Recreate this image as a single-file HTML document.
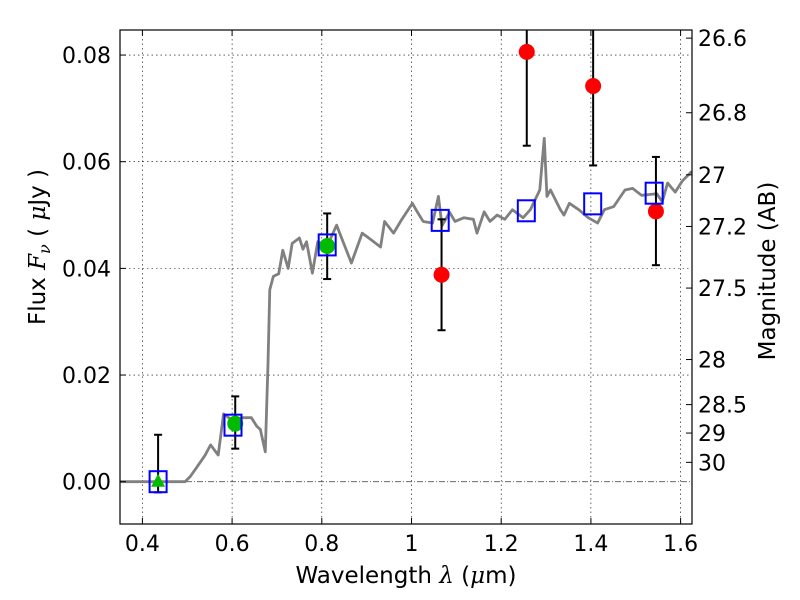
<!DOCTYPE html>
<html><head><meta charset="utf-8"><style>
body{margin:0;background:#fff;}
svg{display:block;font-family:"DejaVu Sans","Liberation Sans",sans-serif;}
</style></head><body>
<svg id="chart" width="800" height="600" viewBox="0 0 800 600"></svg>
<script>
const xTicks=[0.4,0.6,0.8,1,1.2,1.4,1.6];
const xTickLabels=["0.4","0.6","0.8","1","1.2","1.4","1.6"];
const yTicks=[0,0.02,0.04,0.06,0.08];
const yTickLabels=["0.00","0.02","0.04","0.06","0.08"];
const magTicks=[26.6,26.8,27,27.2,27.5,28,28.5,29,30];
const specW=[0.35,0.495,0.507,0.527,0.54,0.552,0.569,0.581,0.601,0.622,0.643,0.655,0.663,0.674,0.68,0.684,0.692,0.704,0.713,0.725,0.734,0.75,0.758,0.766,0.779,0.791,0.812,0.833,0.846,0.866,0.89,0.911,0.931,0.94,0.96,0.977,1.002,1.01,1.026,1.047,1.06,1.068,1.085,1.097,1.117,1.138,1.146,1.162,1.175,1.191,1.208,1.225,1.249,1.265,1.286,1.296,1.302,1.31,1.332,1.34,1.352,1.373,1.394,1.415,1.43,1.451,1.476,1.493,1.513,1.547,1.559,1.571,1.588,1.604,1.625];
const specF=[0,0,0.001,0.0034,0.005,0.0069,0.005,0.0127,0.0115,0.012,0.012,0.0104,0.0098,0.0056,0.022,0.036,0.0385,0.039,0.0434,0.040,0.0447,0.0457,0.0436,0.045,0.0391,0.045,0.0442,0.0481,0.0453,0.041,0.0466,0.0453,0.044,0.0488,0.0466,0.049,0.0522,0.051,0.0488,0.0485,0.0535,0.048,0.0505,0.0488,0.0495,0.0492,0.0466,0.0506,0.0488,0.05,0.0492,0.051,0.0495,0.051,0.0547,0.0644,0.0535,0.0547,0.051,0.05,0.0522,0.051,0.0495,0.0485,0.051,0.0516,0.0547,0.055,0.0537,0.054,0.0525,0.056,0.0543,0.0564,0.0582];
const modelW=[0.435,0.602,0.812,1.064,1.256,1.404,1.541];
const modelF=[0.0,0.0106,0.0444,0.049,0.0508,0.0521,0.0541];
const greenW=[0.607,0.812];
const greenF=[0.0109,0.0442];
const greenLo=[0.0062,0.038];
const greenHi=[0.016,0.0503];
const triW=[0.435];const triF=[0.0];const triLo=[-0.002];const triHi=[0.0088];
const redW=[1.067,1.257,1.405,1.545];
const redF=[0.0388,0.0806,0.0742,0.0507];
const redLo=[0.0284,0.063,0.0593,0.0406];
const redHi=[0.0492,0.095,0.095,0.0609];

const L=120,R=692,T=30,B=524;
const X=w=>411.5+(w-1)*448.5;
const Y=f=>481.7-f*5333;
const svg=document.getElementById('chart');
const NS='http://www.w3.org/2000/svg';
function mk(tag,attrs,parent){const e=document.createElementNS(NS,tag);for(const k in attrs)e.setAttribute(k,attrs[k]);(parent||svg).appendChild(e);return e;}
const defs=mk('defs',{});const cp=mk('clipPath',{id:'clip'},defs);mk('rect',{x:L,y:T,width:R-L,height:B-T},cp);
const plot=mk('g',{'clip-path':'url(#clip)'});


xTicks.forEach(v=>{const g=mk('line',{x1:X(v),x2:X(v),y1:T,y2:B,stroke:'#000','stroke-width':0.6,'stroke-dasharray':'1.5,3'},plot);

});
yTicks.forEach(v=>{if(v===0)return;const g=mk('line',{x1:L,x2:R,y1:Y(v),y2:Y(v),stroke:'#000','stroke-width':0.6,'stroke-dasharray':'1.5,3'},plot);

});
const zl=mk('line',{x1:L,x2:R,y1:Y(0),y2:Y(0),stroke:'#555','stroke-width':0.8,'stroke-dasharray':'6,2,1,2'},plot);


const sp=mk('polyline',{points:specW.map((w,i)=>X(w)+','+Y(specF[i])).join(' '),fill:'none',stroke:'#808080','stroke-width':2.8,'stroke-linejoin':'round'},plot);


function err(w,lo,hi){const x=X(w);
const g=mk('g',{stroke:'#000','stroke-width':2},plot);


mk('line',{x1:x,x2:x,y1:Y(lo),y2:Y(hi)},g);mk('line',{x1:x-4,x2:x+4,y1:Y(lo),y2:Y(lo)},g);mk('line',{x1:x-4,x2:x+4,y1:Y(hi),y2:Y(hi)},g);}
triW.forEach((w,i)=>err(w,triLo[i],triHi[i]));
greenW.forEach((w,i)=>err(w,greenLo[i],greenHi[i]));
redW.forEach((w,i)=>err(w,redLo[i],redHi[i]));
triW.forEach((w,i)=>{const x=X(w),y=Y(triF[i]);const t=mk('polygon',{points:`${x},${y-8} ${x-7},${y+5} ${x+7},${y+5}`,fill:'#00bb00'},plot);

});
greenW.forEach((w,i)=>{const c=mk('circle',{cx:X(w),cy:Y(greenF[i]),r:8,fill:'#00bb00'},plot);

});
redW.forEach((w,i)=>{const c=mk('circle',{cx:X(w),cy:Y(redF[i]),r:8,fill:'#ff0000'},plot);

});
modelW.forEach((w,i)=>{const s=mk('rect',{x:X(w)-8.5,y:Y(modelF[i])-10.5,width:17,height:21,fill:'none',stroke:'#0000ff','stroke-width':2},plot);

});
const fr=mk('rect',{x:L,y:T,width:R-L,height:B-T,fill:'none',stroke:'#000','stroke-width':1.2});


xTicks.forEach((v,i)=>{mk('line',{x1:X(v),x2:X(v),y1:B,y2:B-6,stroke:'#000'});mk('line',{x1:X(v),x2:X(v),y1:T,y2:T+6,stroke:'#000'});
const t=mk('text',{x:X(v),y:B+27,'text-anchor':'middle','font-size':22});t.textContent=xTickLabels[i];

});
yTicks.forEach((v,i)=>{mk('line',{x1:L,x2:L+6,y1:Y(v),y2:Y(v),stroke:'#000'});
const t=mk('text',{x:111,y:Y(v)+8,'text-anchor':'end','font-size':22});t.textContent=yTickLabels[i];

});
magTicks.forEach(m=>{const y=Y(Math.pow(10,(23.9-m)/2.5));mk('line',{x1:R,x2:R-6,y1:y,y2:y,stroke:'#000'});
const t=mk('text',{x:698,y:Math.max(y,37)+8,'font-size':22});t.textContent=String(m);

});
</script>
<div style="position:absolute;left:0;top:0;width:800px;height:600px;pointer-events:none;">
<svg width="800" height="600" style="font-family:'DejaVu Sans','Liberation Sans',sans-serif;">
<text x="406" y="583" text-anchor="middle" font-size="23">Wavelength  <tspan font-style="italic" font-family="DejaVu Serif,serif">λ</tspan> (<tspan font-style="italic" font-family="DejaVu Serif,serif">μ</tspan>m)</text>
<text transform="translate(45,247) rotate(-90)" text-anchor="middle" font-size="23">Flux  <tspan font-style="italic" font-family="DejaVu Serif,serif">F</tspan><tspan font-style="italic" font-family="DejaVu Serif,serif" font-size="16" dy="5">ν</tspan><tspan dy="-5">  (  </tspan><tspan font-style="italic" font-family="DejaVu Serif,serif">μ</tspan>Jy )</text>
<text transform="translate(775,271) rotate(-90)" text-anchor="middle" font-size="23">Magnitude (AB)</text>
</svg></div>
</body></html>
